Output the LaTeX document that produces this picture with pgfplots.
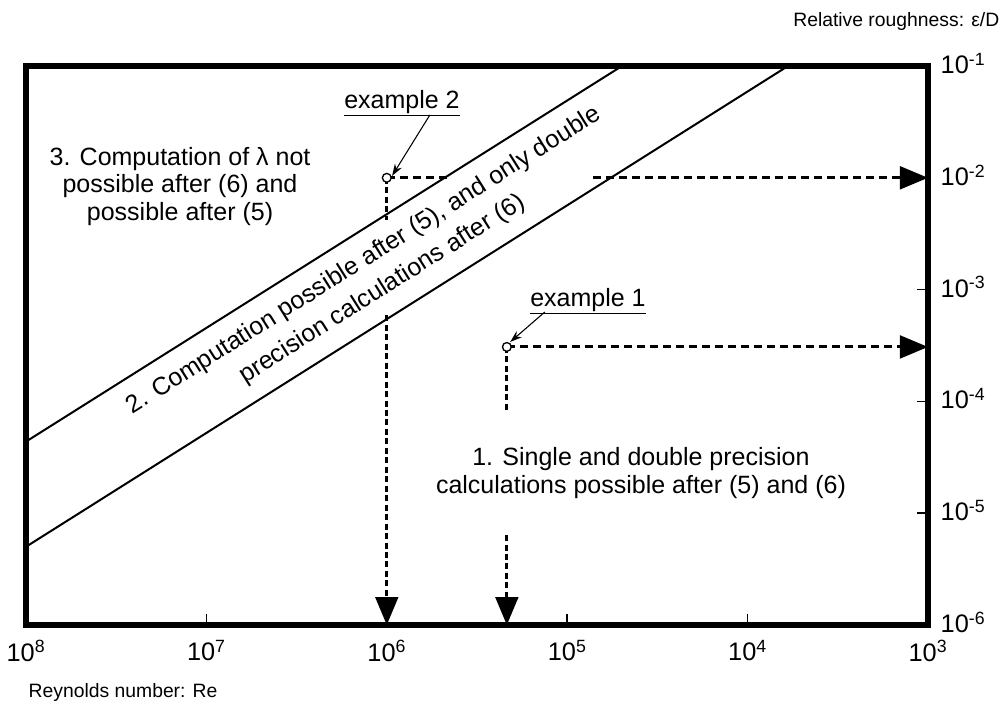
\documentclass[border=0pt]{standalone}
\usepackage{fontspec}
\setmainfont{Liberation Sans}
\usepackage{pgfplots}
\pgfplotsset{compat=1.18}
\usetikzlibrary{arrows.meta}
\newcommand{\annfont}{\fontsize{18.75}{20.5}\selectfont}
\newcommand{\labfont}{\fontsize{14.5}{17}\selectfont}
\newcommand{\tickfont}{\fontsize{19}{21}\selectfont}
\begin{document}
\begin{tikzpicture}
\begin{axis}[
  at={(19.5pt,-468.75pt)}, anchor=south west,
  scale only axis, width=676.5pt, height=419.25pt,
  xmode=log, ymode=log, x dir=reverse,
  xmin=1e3, xmax=1e8, ymin=1e-6, ymax=1e-1,
  axis line style={line width=5pt, line join=miter},
  xtick={1e3,1e4,1e5,1e6,1e7,1e8},
  xticklabels={10\textsuperscript{3},10\textsuperscript{4},10\textsuperscript{5},10\textsuperscript{6},10\textsuperscript{7},10\textsuperscript{8}},
  ytick={1e-6,1e-5,1e-4,1e-3,1e-2,1e-1},
  yticklabels={10\textsuperscript{-6},10\textsuperscript{-5},10\textsuperscript{-4},10\textsuperscript{-3},10\textsuperscript{-2},10\textsuperscript{-1}},
  xtick pos=left, ytick pos=right, yticklabel pos=right,
  xminorticks=false, yminorticks=false,
  tick align=inside, major tick length=8.5pt,
  every tick/.style={black, line width=1.1pt},
  tick label style={font=\tickfont},
  xticklabel style={yshift=-8pt},
  yticklabel style={xshift=6pt, yshift=2pt},
  clip=false,
]
% boundary lines
\addplot[black, line width=1.5pt] coordinates {(1e8,4.37e-5) (4.97e4,0.1)};
\addplot[black, line width=1.5pt] coordinates {(1e8,5.01e-6) (5.97e3,0.1)};
% example 2
\addplot[black, line width=2.25pt, dash pattern=on 6pt off 3.75pt] coordinates {(1e6,1e-2) (4.63e5,1e-2)};
\addplot[black, line width=2.25pt, dash pattern=on 6pt off 3.75pt, -{Triangle[length=21pt,width=17pt]}] coordinates {(7.19e4,1e-2) (1e3,1e-2)};
\addplot[black, line width=2.25pt, dash pattern=on 4.5pt off 2.6pt] coordinates {(1e6,1e-2) (1e6,4.17e-3)};
\addplot[black, line width=2.25pt, dash pattern=on 4.5pt off 2.6pt, -{Triangle[length=21pt,width=17pt]}] coordinates {(1e6,5.89e-4) (1e6,1e-6)};
% example 1
\addplot[black, line width=2.25pt, dash pattern=on 6pt off 3.75pt, -{Triangle[length=21pt,width=17pt]}] coordinates {(2.16e5,3.07e-4) (1e3,3.07e-4)};
\addplot[black, line width=2.25pt, dash pattern=on 4.5pt off 2.6pt] coordinates {(2.16e5,3.07e-4) (2.16e5,7.94e-5)};
\addplot[black, line width=2.25pt, dash pattern=on 4.5pt off 2.6pt, -{Triangle[length=21pt,width=17pt]}] coordinates {(2.16e5,6.38e-6) (2.16e5,1e-6)};
% points
\addplot[only marks, mark=*, mark size=3.3pt, mark options={fill=white, draw=black, line width=1pt}] coordinates {(1e6,1e-2) (2.16e5,3.07e-4)};
% label arrows
\addplot[black, line width=0.8pt, -{Stealth[length=9pt,width=6pt]}] coordinates {(5.77e5,3.65e-2) (9.35e5,1.04e-2)};
\addplot[black, line width=0.8pt, -{Stealth[length=9pt,width=6pt]}] coordinates {(1.33e5,6.31e-4) (2.07e5,3.40e-4)};
% texts
\node[font=\annfont] at (axis cs:8.24e5,4.67e-2) {\underline{example 2}};
\node[font=\annfont] at (axis cs:7.67e4,7.91e-4) {\underline{example 1}};
\node[font=\annfont, align=center] at (axis cs:1.40e7,8.4e-3) {3. Computation of λ not\\possible after (6) and\\possible after (5)};
\node[font=\annfont, align=center] at (axis cs:3.90e4,2.29e-5) {1. Single and double precision\\calculations possible after (5) and (6)};
\node[font=\annfont, align=center, rotate=32.25] at (axis cs:1.19e6,1.35e-3) {2. Computation possible after (5), and only double\\[5pt]precision calculations after (6)};
\end{axis}
\node[anchor=east, font=\labfont] at (753pt,-16pt) {Relative roughness: ε/D};
\node[anchor=west, font=\labfont] at (18pt,-519pt) {Reynolds number: Re};
\pgfresetboundingbox
\path (0,0) rectangle (754.5pt,-534.75pt);
\end{tikzpicture}
\end{document}
